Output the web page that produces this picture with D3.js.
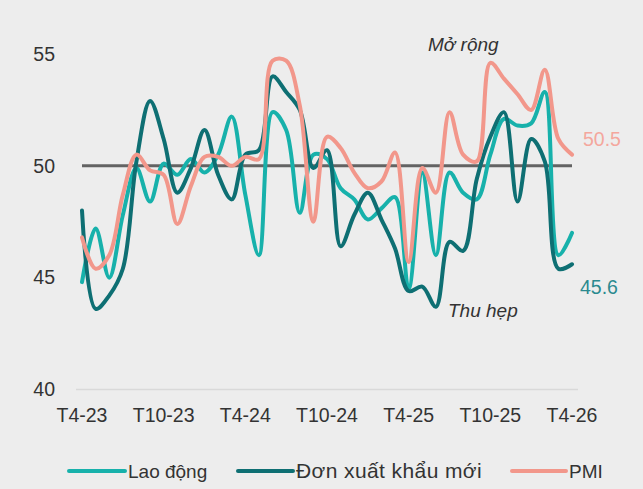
<!doctype html>
<html>
  <head>
    <meta charset="utf-8">
    <script src="https://cdn.jsdelivr.net/npm/d3@7"></script>
    <style>
      body { margin: 0; background: #ededed; }
      svg { display: block; background: #ededed; }
      text { font-family: "Liberation Sans", Arial, sans-serif; fill: #333; }
      .note { font-style: italic; font-size: 19px; }
    </style>
  </head>
  <body>
    <svg class="chart"></svg>
    <script>
      // months T4-23 .. T4-26
      const months = d3.range(37).map(i => {
        const m = (3 + i) % 12 + 1, y = 23 + Math.floor((3 + i) / 12)
        return "T" + m + "-" + y
      })
      const tickLabels = ["T4-23", "T10-23", "T4-24", "T10-24", "T4-25", "T10-25", "T4-26"]
      const yTicks = [40, 45, 50, 55]

      const laoDong = [44.8, 47.2, 45.0, 47.8, 49.9, 48.4, 50.1, 49.6, 50.3, 49.7, 50.5, 52.2,
                       48.7, 46.0, 52.4, 51.6, 47.9, 50.5, 50.3, 49.0, 48.5, 47.6, 48.1, 48.6,
                       44.5, 49.7, 46.0, 49.7, 48.8, 48.5, 50.5, 52.1, 51.8, 51.9, 53.3, 46.0, 47.0]
      const donXK = [48.0, 43.6, 44.2, 45.4, 50.2, 52.9, 51.2, 48.8, 49.9, 51.6, 49.6, 48.5,
                     50.5, 50.7, 54.0, 53.3, 52.5, 49.9, 50.7, 46.4, 47.8, 48.8, 47.6, 46.3,
                     44.4, 44.6, 43.7, 46.6, 46.2, 49.4, 51.3, 52.4, 48.4, 51.2, 50.2, 45.4, 45.6]
      const pmi = [46.8, 45.4, 46.0, 48.7, 50.5, 49.8, 49.6, 47.4, 49.1, 50.4, 50.4, 50.0,
                   50.4, 50.3, 54.7, 54.7, 52.7, 47.5, 51.3, 50.8, 49.7, 49.0, 49.3, 50.6,
                   45.7, 49.9, 48.8, 52.4, 50.5, 50.2, 54.6, 53.9, 53.2, 52.5, 54.3, 51.2, 50.5]

      const series = [
        { name: "Lao động", values: laoDong, color: "#17b1ab" },
        { name: "Đơn xuất khẩu mới", values: donXK, color: "#0e6f73" },
        { name: "PMI", values: pmi, color: "#f2978b" }
      ]

      const W = 643, H = 489
      const svg = d3.select(".chart").attr("width", W).attr("height", H)

      const x = d3.scalePoint().domain(months).range([82, 572])
      const y = d3.scaleLinear().domain([40, 55]).range([389.5, 54])

      // y axis labels
      svg.append("g")
        .selectAll("text")
        .data(yTicks)
        .enter().append("text")
          .attr("x", 55)
          .attr("y", d => y(d))
          .attr("dy", "0.35em")
          .attr("text-anchor", "end")
          .style("font-size", "19.5px")
          .text(d => d)

      // baseline at 40
      svg.append("line")
        .attr("x1", 76).attr("x2", 578)
        .attr("y1", y(40)).attr("y2", y(40))
        .attr("stroke", "#d9d9d9").attr("stroke-width", 1.5)

      // x labels
      svg.append("g")
        .selectAll("text")
        .data(tickLabels)
        .enter().append("text")
          .attr("x", d => x(d))
          .attr("y", 415)
          .attr("dy", "0.35em")
          .attr("text-anchor", "middle")
          .style("font-size", "19.5px")
          .text(d => d)

      // 50 reference line
      svg.append("line")
        .attr("x1", x(months[0])).attr("x2", x(months[36]))
        .attr("y1", y(50)).attr("y2", y(50))
        .attr("stroke", "#636363").attr("stroke-width", 3)

      const line = d3.line()
        .x((d, i) => x(months[i]))
        .y(d => y(d))
        .curve(d3.curveCatmullRom.alpha(0.5))

      svg.append("g")
        .selectAll("path")
        .data(series)
        .enter().append("path")
          .attr("d", d => line(d.values))
          .attr("fill", "none")
          .attr("stroke", d => d.color)
          .attr("stroke-width", 4)
          .attr("stroke-linecap", "round")
          .attr("stroke-linejoin", "round")

      // annotations
      svg.append("text").attr("class", "note").attr("x", 428).attr("y", 51).text("Mở rộng")
      svg.append("text").attr("class", "note").attr("x", 448).attr("y", 317).text("Thu hẹp")

      svg.append("text").attr("x", 583).attr("y", 139).attr("dy", "0.35em")
        .style("font-size", "19.5px").style("fill", "#f4a79d").text(pmi[36].toFixed(1))
      svg.append("text").attr("x", 580).attr("y", 287).attr("dy", "0.35em")
        .style("font-size", "19.5px").style("fill", "#2b8a8f").text(donXK[36].toFixed(1))

      // legend
      const legendPos = [{ x1: 69, x2: 125 }, { x1: 238, x2: 293 }, { x1: 512, x2: 566 }]
      const legendSize = ["19px", "21px", "19px"]
      const legend = svg.append("g")
      series.forEach((s, i) => {
        legend.append("line")
          .attr("x1", legendPos[i].x1).attr("x2", legendPos[i].x2)
          .attr("y1", 471).attr("y2", 471)
          .attr("stroke", s.color).attr("stroke-width", 4)
          .attr("stroke-linecap", "round")
        legend.append("text")
          .attr("x", legendPos[i].x2 + 3)
          .attr("y", 471)
          .attr("dy", "0.35em")
          .style("font-size", legendSize[i])
          .style("letter-spacing", i === 1 ? "0.4px" : "0px")
          .text(s.name)
      })
    </script>
  </body>
</html>
